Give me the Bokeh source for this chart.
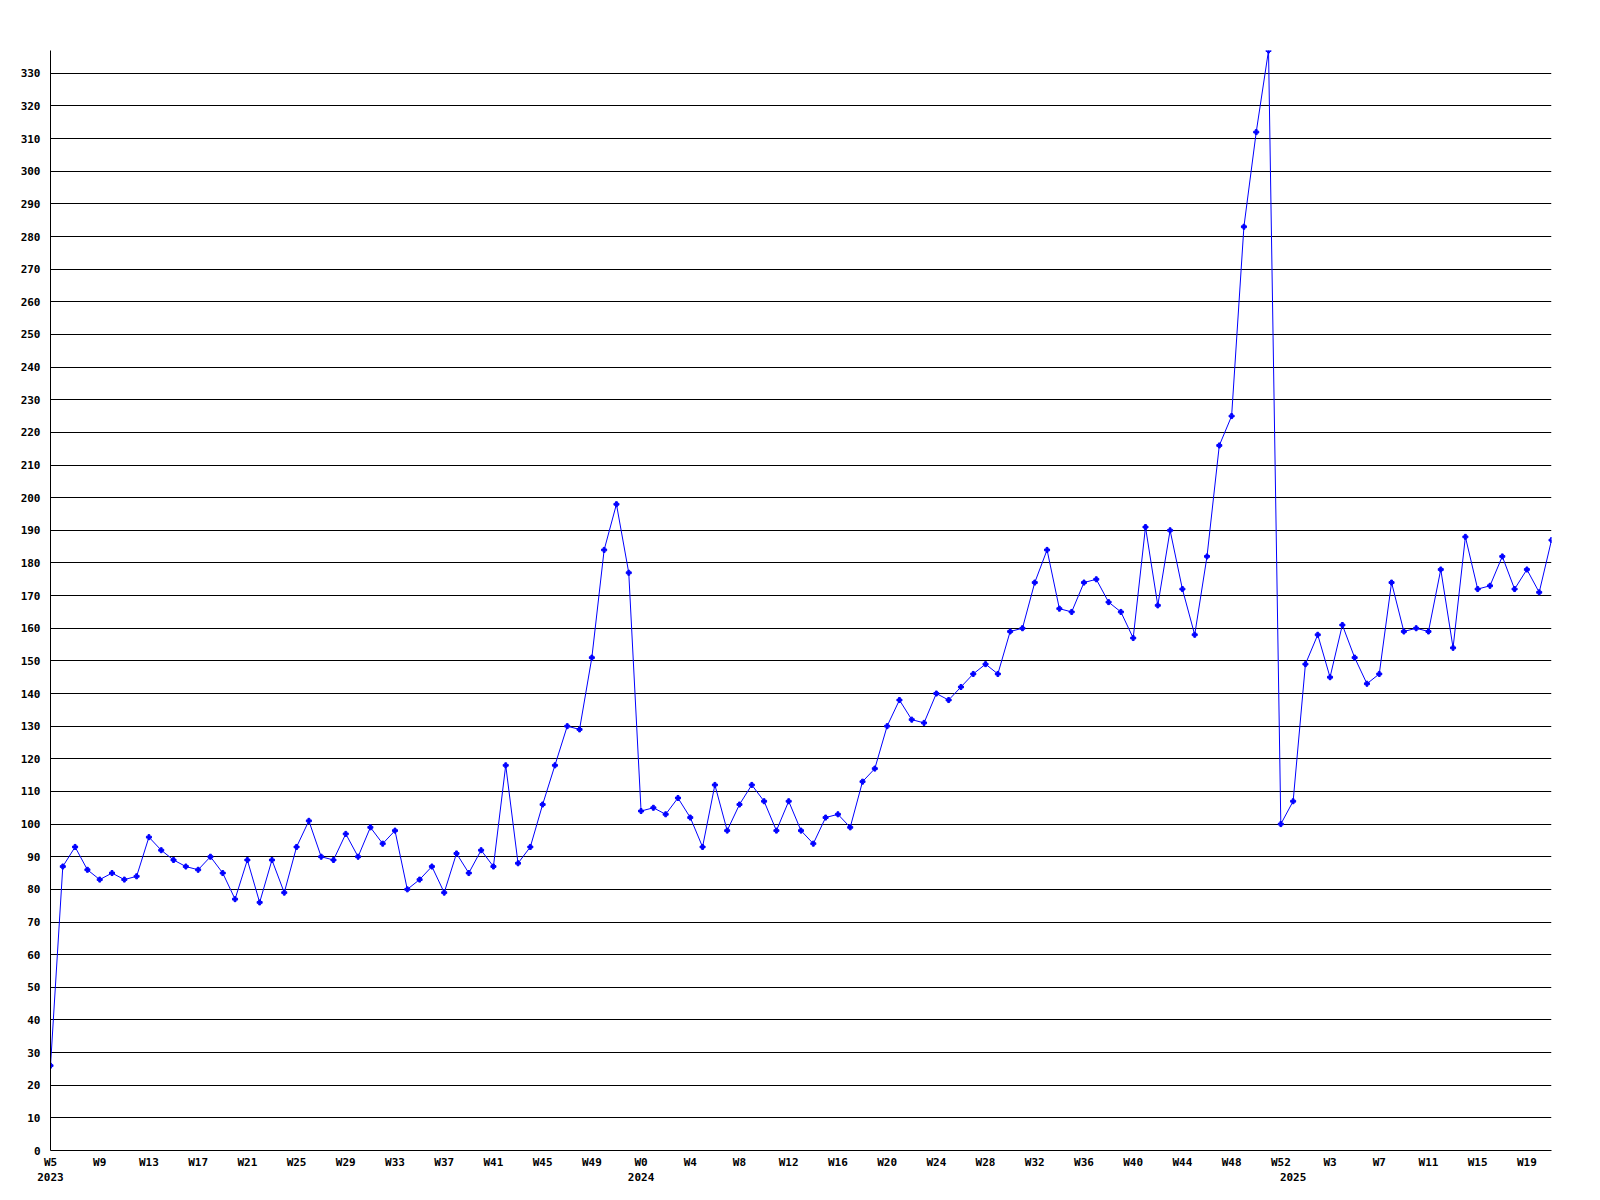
from bokeh.plotting import figure
from bokeh.models import Range1d, FixedTicker, LinearAxis, ColumnDataSource
from bokeh.embed import file_html
from bokeh.resources import INLINE

# ---- data ----
weeks_2023 = [f"W{w}" for w in range(5, 53)]
weeks_2024 = [f"W{w}" for w in range(0, 53)]
weeks_2025 = [f"W{w}" for w in range(0, 22)]
week_labels = weeks_2023 + weeks_2024 + weeks_2025

years = ["2023", "2024", "2025"]
year_start_index = [0, len(weeks_2023), len(weeks_2023) + len(weeks_2024)]

values_2023 = [26, 87, 93, 86, 83, 85, 83, 84, 96, 92, 89, 87, 86, 90, 85, 77,
               89, 76, 89, 79, 93, 101, 90, 89, 97, 90, 99, 94, 98, 80, 83, 87,
               79, 91, 85, 92, 87, 118, 88, 93, 106, 118, 130, 129, 151, 184, 198, 177]
values_2024 = [104, 105, 103, 108, 102, 93, 112, 98, 106, 112, 107, 98, 107, 98, 94,
               102, 103, 99, 113, 117, 130, 138, 132, 131, 140, 138, 142, 146, 149,
               146, 159, 160, 174, 184, 166, 165, 174, 175, 168, 165, 157, 191, 167,
               190, 172, 158, 182, 216, 225, 283, 312, 337, 100]
values_2025 = [107, 149, 158, 145, 161, 151, 143, 146, 174, 159, 160, 159, 178, 154,
               188, 172, 173, 182, 172, 178, 171, 187]
values = values_2023 + values_2024 + values_2025

y_ticks = list(range(0, 331, 10))
x_tick_step = 4

# ---- chart ----
idx = list(range(len(values)))
src = ColumnDataSource(dict(x=idx, y=values))

p = figure(width=1598, height=1198, output_backend="svg", toolbar_location=None,
           x_range=Range1d(0, len(values) - 1), y_range=Range1d(0, 337),
           min_border_left=50, min_border_top=50, min_border_right=47,
           min_border_bottom=48, background_fill_color="white",
           border_fill_color="white")
p.outline_line_color = None

FONT = "DejaVu Sans Mono"

p.line("x", "y", source=src, line_color="#0000FF", line_width=1)
p.scatter("x", "y", source=src, marker="plus", size=5, color="#0000FF")

# y axis
p.yaxis.ticker = FixedTicker(ticks=y_ticks)
p.yaxis.major_tick_line_color = None
p.yaxis.major_tick_out = 0
p.yaxis.major_tick_in = 0
p.yaxis.minor_tick_line_color = None
p.yaxis.axis_line_color = "black"
p.yaxis.major_label_standoff = 10
p.yaxis.major_label_text_font = FONT
p.yaxis.major_label_text_font_style = "bold"
p.yaxis.major_label_text_font_size = "11px"
p.yaxis.major_label_text_color = "black"

p.ygrid.ticker = FixedTicker(ticks=y_ticks)
p.ygrid.grid_line_color = "black"
p.ygrid.grid_line_alpha = 1.0
p.ygrid.grid_line_width = 1
p.xgrid.grid_line_color = None

# x axis (weeks)
x_ticks = idx[::x_tick_step]
p.xaxis.ticker = FixedTicker(ticks=x_ticks)
p.xaxis.major_label_overrides = {i: week_labels[i] for i in x_ticks}
p.xaxis.major_tick_line_color = None
p.xaxis.major_tick_out = 0
p.xaxis.major_tick_in = 0
p.xaxis.minor_tick_line_color = None
p.xaxis.axis_line_color = "black"
p.xaxis.major_label_standoff = 5
p.xaxis.major_label_text_font = FONT
p.xaxis.major_label_text_font_style = "bold"
p.xaxis.major_label_text_font_size = "11px"
p.xaxis.major_label_text_color = "black"

# year axis
year_axis = LinearAxis(ticker=FixedTicker(ticks=year_start_index),
                       major_label_overrides={i: y for i, y in zip(year_start_index, years)},
                       axis_line_color=None, major_tick_line_color=None,
                       major_tick_out=0, major_tick_in=0,
                       minor_tick_line_color=None, major_label_standoff=1,
                       major_label_text_font=FONT, major_label_text_font_style="bold",
                       major_label_text_font_size="11px", major_label_text_color="black")
p.add_layout(year_axis, "below")

open("out.html", "w").write(file_html(p, INLINE))
